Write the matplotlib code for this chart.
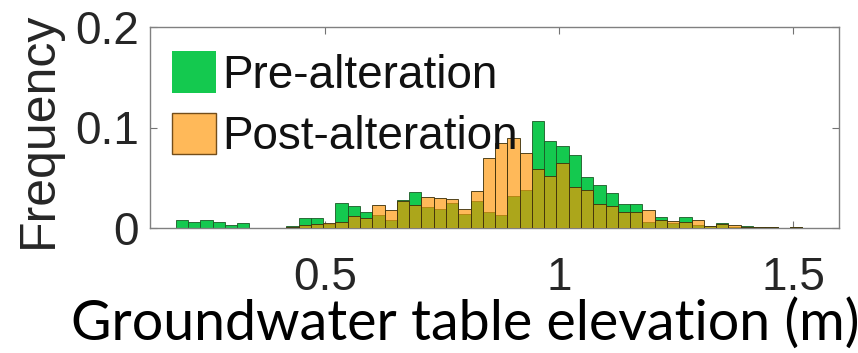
import numpy as np
import matplotlib
matplotlib.use("Agg")
import matplotlib.pyplot as plt
from matplotlib.patches import Patch

# ---- data ----
bin_start = 0.181
bin_width = 0.02624
pre_alteration = [0.008, 0.0056, 0.008, 0.0056, 0.003, 0.0046, 0.0, 0.0, 0.0, 0.002,
                  0.0103, 0.0103, 0.004, 0.0245, 0.0216, 0.0163, 0.013, 0.008, 0.028, 0.0355,
                  0.021, 0.019, 0.0245, 0.0136, 0.0265, 0.016, 0.0125, 0.032, 0.038, 0.106,
                  0.087, 0.082, 0.073, 0.051, 0.043, 0.035, 0.0238, 0.0238, 0.006, 0.0105,
                  0.005, 0.0113, 0.003, 0.0023, 0.0053, 0.001, 0.002, 0.0007, 0.0007, 0.0003,
                  0.0007]
post_alteration = [0.0, 0.0, 0.0, 0.0, 0.0, 0.0, 0.0, 0.0, 0.0, 0.0005,
                   0.003, 0.0036, 0.005, 0.0063, 0.012, 0.0103, 0.0226, 0.0175, 0.027, 0.0225,
                   0.031, 0.030, 0.029, 0.019, 0.037, 0.0693, 0.0843, 0.090, 0.0743, 0.0584,
                   0.052, 0.0643, 0.041, 0.0378, 0.0237, 0.022, 0.0163, 0.0163, 0.018, 0.008,
                   0.007, 0.0063, 0.008, 0.002, 0.004, 0.003, 0.001, 0.0005, 0.0007, 0.0003,
                   0.0005]
labels = ["Pre-alteration", "Post-alteration"]
xticks = [0.5, 1, 1.5]
xticklabels = ["0.5", "1", "1.5"]
yticks = [0, 0.1, 0.2]
yticklabels = ["0", "0.1", "0.2"]
xlabel = "Groundwater table elevation (m)"
ylabel = "Frequency"

n = len(pre_alteration)
edges = bin_start + bin_width * np.arange(n + 1)

W, H = 858, 353
fig = plt.figure(figsize=(W / 100, H / 100), dpi=100)
ax = fig.add_axes([150 / W, 1 - 228 / H, (839 - 150) / W, (228 - 27) / H])

green = "#14C94F"
orange = (1.0, 0.58, 0.0, 0.65)

ax.bar(edges[:-1], pre_alteration, width=bin_width, align="edge",
       facecolor=green, edgecolor=(0.1, 0.35, 0.15), linewidth=0.6, zorder=2)
ax.bar(edges[:-1], post_alteration, width=bin_width, align="edge",
       facecolor=orange, edgecolor=(0.25, 0.2, 0.05, 0.9), linewidth=0.7, zorder=3)

ax.set_xlim(0.126, 1.598)
ax.set_ylim(0, 0.2)
ax.set_xticks(xticks)
ax.set_xticklabels(xticklabels)
ax.set_yticks(yticks)
ax.set_yticklabels(yticklabels)

fam = ["Liberation Sans", "DejaVu Sans"]
for lab in ax.get_xticklabels() + ax.get_yticklabels():
    lab.set_family(fam)
    lab.set_fontsize(33)
    lab.set_color("#262626")

ax.tick_params(axis="both", which="both", direction="in", length=5, width=0.8,
               color="0.45", top=True, right=True)
ax.tick_params(axis="x", pad=20)
ax.tick_params(axis="y", pad=8)
for s in ax.spines.values():
    s.set_color("0.5")
    s.set_linewidth(1.0)

ax.set_ylabel(ylabel, family=fam, fontsize=36, color="#262626")
ax.yaxis.set_label_coords(-0.128, 0.49)

handles = [Patch(facecolor=green, edgecolor="none"),
           Patch(facecolor=orange, edgecolor=(0.45, 0.3, 0.1))]
leg = ax.legend(handles, labels, loc="upper left", frameon=False,
                prop={"family": fam, "size": 33}, handlelength=0.95, handleheight=1.0,
                handletextpad=0.15, labelspacing=0.33, borderaxespad=0.2,
                bbox_to_anchor=(-0.008, 1.015))
for t in leg.get_texts():
    t.set_color("#111111")

fig.text(465 / W, 1 - 340 / H, xlabel, ha="center", va="baseline",
         family=["Lato", "DejaVu Sans"], fontsize=40, color="black")

fig.savefig("out.png", dpi=100)
